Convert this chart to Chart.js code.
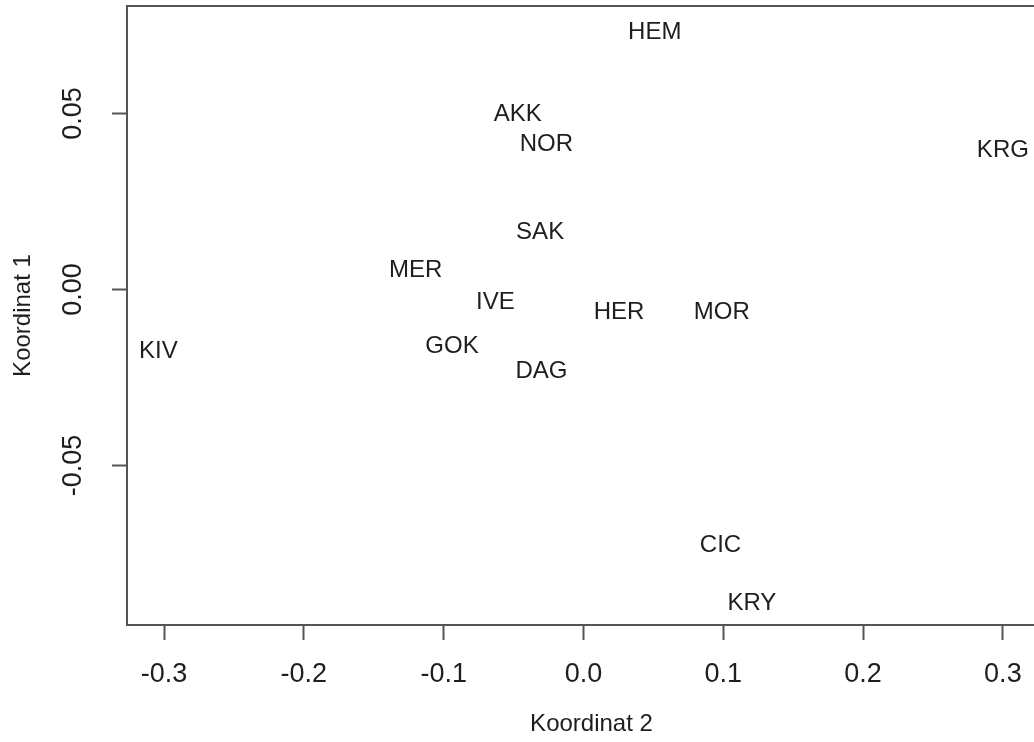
<!DOCTYPE html>
<html>
<head>
<meta charset="utf-8">
<script src="https://cdn.jsdelivr.net/npm/chart.js@4.4.1/dist/chart.umd.min.js"></script>
<style>
  html, body { margin: 0; padding: 0; background: #fff; overflow: hidden; }
  .wrap { position: relative; width: 1060px; height: 742px; }
</style>
</head>
<body>
<div class="wrap"><canvas id="mds"></canvas></div>
<script>
const names = ["HEM", "AKK", "NOR", "KRG", "SAK", "MER", "IVE", "HER", "MOR", "KIV", "GOK", "DAG", "CIC", "KRY"];
const coord2 = [0.051, -0.047, -0.0265, 0.300, -0.031, -0.120, -0.063, 0.0254, 0.099, -0.304, -0.094, -0.030, 0.098, 0.1205];
const coord1 = [0.0729, 0.0496, 0.0411, 0.0396, 0.0163, 0.0055, -0.0038, -0.0064, -0.0064, -0.0175, -0.0161, -0.0234, -0.0726, -0.0891];

const xTicks = [-0.3, -0.2, -0.1, 0, 0.1, 0.2, 0.3];
const xTickLabels = ["-0.3", "-0.2", "-0.1", "0.0", "0.1", "0.2", "0.3"];
const yTicks = [-0.05, 0, 0.05];
const yTickLabels = ["-0.05", "0.00", "0.05"];

const FONT = "'Liberation Sans', Arial, sans-serif";
const INK = "#1e1e1e";
const AXIS = "#555";

// names written at each point, like R's text()
const pointText = {
  id: "pointText",
  afterDatasetsDraw(chart) {
    const ctx = chart.ctx;
    const meta = chart.getDatasetMeta(0);
    ctx.save();
    ctx.font = "24px " + FONT;
    ctx.fillStyle = INK;
    ctx.textAlign = "center";
    ctx.textBaseline = "middle";
    meta.data.forEach((pt, i) => ctx.fillText(names[i], pt.x, pt.y));
    ctx.restore();
  },
};

// top and right sides of the box
const plotBox = {
  id: "plotBox",
  afterDraw(chart) {
    const { ctx, chartArea: a } = chart;
    ctx.save();
    ctx.strokeStyle = AXIS;
    ctx.lineWidth = 2;
    ctx.beginPath();
    ctx.moveTo(a.left, a.top);
    ctx.lineTo(a.right, a.top);
    ctx.lineTo(a.right, a.bottom);
    ctx.stroke();
    ctx.restore();
  },
};

const axisGrid = {
  drawOnChartArea: false,
  drawTicks: true,
  tickLength: 15,
  tickWidth: 2,
  tickColor: AXIS,
};

new Chart(document.getElementById("mds"), {
  type: "scatter",
  data: {
    datasets: [
      {
        data: names.map((n, i) => ({ x: coord2[i], y: coord1[i] })),
        pointRadius: 0,
        pointHoverRadius: 0,
      },
    ],
  },
  options: {
    responsive: true,
    maintainAspectRatio: false,
    animation: false,
    layout: { padding: { top: 6, right: 4, left: 0, bottom: 0 } },
    plugins: {
      legend: { display: false },
      tooltip: { enabled: false },
    },
    scales: {
      x: {
        type: "linear",
        position: "bottom",
        min: -0.3265,
        max: 0.338,
        afterBuildTicks: (scale) => {
          scale.ticks = xTicks.map((v) => ({ value: v }));
        },
        afterFit: (scale) => {
          scale.height = 117;
          scale.paddingLeft = 0;
          scale.paddingRight = 0;
        },
        grid: axisGrid,
        border: { display: true, color: AXIS, width: 2 },
        ticks: {
          autoSkip: false,
          maxRotation: 0,
          minRotation: 0,
          padding: 18,
          color: INK,
          font: { family: FONT, size: 27 },
          callback: (value, index) => xTickLabels[index],
        },
        title: {
          display: true,
          text: "Koordinat 2",
          color: INK,
          font: { family: FONT, size: 24 },
          padding: { top: 0, bottom: 3 },
        },
      },
      y: {
        type: "linear",
        position: "left",
        min: -0.0953,
        max: 0.0805,
        afterBuildTicks: (scale) => {
          scale.ticks = yTicks.map((v) => ({ value: v }));
        },
        afterFit: (scale) => {
          scale.width = 127;
          scale.paddingTop = 0;
          scale.paddingBottom = 0;
        },
        grid: axisGrid,
        border: { display: true, color: AXIS, width: 2 },
        ticks: {
          autoSkip: false,
          minRotation: 90,
          maxRotation: 90,
          crossAlign: "center",
          padding: 8,
          color: INK,
          font: { family: FONT, size: 27 },
          callback: (value, index) => yTickLabels[index],
        },
        title: {
          display: true,
          text: "Koordinat 1",
          color: INK,
          font: { family: FONT, size: 24 },
          padding: { top: 9, bottom: 0 },
        },
      },
    },
  },
  plugins: [pointText, plotBox],
});
</script>
</body>
</html>
